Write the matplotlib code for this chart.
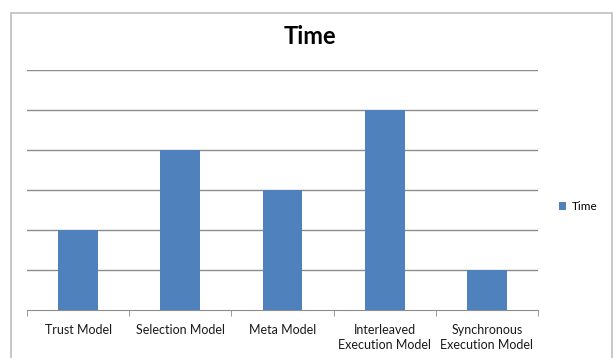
import matplotlib
matplotlib.use("Agg")
import matplotlib.pyplot as plt
from matplotlib.patches import Rectangle

categories = ["Trust Model", "Selection Model", "Meta Model",
              "Interleaved\nExecution Model", "Synchronous\nExecution Model"]
values = [2, 4, 3, 5, 1]
series_name = "Time"

plt.rcParams['font.family'] = ['Lato', 'DejaVu Sans']

fig = plt.figure(figsize=(6.15, 3.58), dpi=100)
# outer chart border like excel
fig.patches.append(Rectangle((11/615, -0.01), 601/615, 1 - 13/358 + 0.01,
                             transform=fig.transFigure, fill=False,
                             edgecolor='#bfbfbf', lw=1.2))

ax = fig.add_axes([27/615, 1 - 310/358, 511/615, 240/358])
x = range(len(values))
ax.bar(x, values, width=0.39, color='#4F81BD', label=series_name, zorder=3)
ax.set_xlim(-0.5, len(values) - 0.5)
ax.set_ylim(0, 6)
ax.set_yticks(range(1, 7))
ax.yaxis.grid(True, color='#8c8c8c', lw=1)
ax.tick_params(axis='y', left=False, labelleft=False)
ax.set_xticks(x)
ax.set_xticklabels(categories, fontsize=9, color='#1a1a1a', linespacing=1.3)
ax.set_xticks([i - 0.5 for i in range(len(values) + 1)], minor=True)
ax.tick_params(axis='x', which='major', length=0, pad=10)
ax.tick_params(axis='x', which='minor', length=4, color='#8c8c8c')
for s in ['top', 'right', 'left']:
    ax.spines[s].set_visible(False)
ax.spines['bottom'].set_color('#8c8c8c')

fig.text(310/615, 1 - 37/358, "Time", ha='center', va='center',
         fontsize=17, fontweight='bold')

ax.legend(loc='center left', bbox_to_anchor=(1.02, 0.43), frameon=False,
          fontsize=8.5, handlelength=0.6, handleheight=0.6, handletextpad=0.5)

fig.savefig("out.png", dpi=100)
